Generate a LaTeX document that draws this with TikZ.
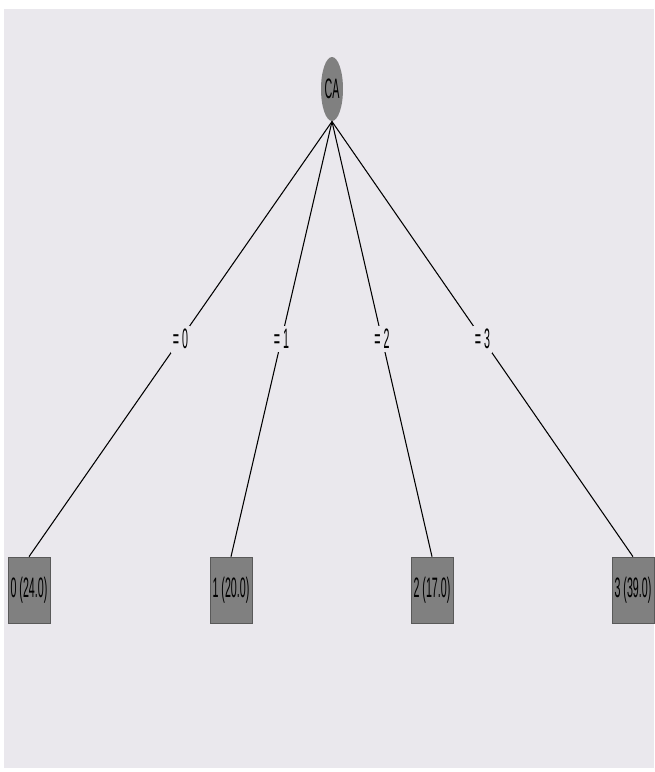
\documentclass[tikz,border=0pt]{standalone}
\usepackage{fontspec}
\setmainfont{Liberation Sans}
\usepackage{xcolor}
\usepackage{tikz}
\usetikzlibrary{shapes.geometric}

\definecolor{panelbg}{HTML}{EAE8ED}
\definecolor{nodegray}{HTML}{808080}
\newcommand{\narrow}[1]{\scalebox{0.38}[1]{\fontsize{16}{18}\selectfont #1}}

\begin{document}
\begin{tikzpicture}[x=0.02cm,y=-0.02cm,line width=0.6pt]
\tikzstyle{attr}=[ellipse,fill=nodegray,inner sep=0pt,minimum width=0.44cm,minimum height=1.28cm]
\tikzstyle{leaf}=[rectangle,fill=nodegray,draw=gray!70!black,line width=0.4pt,inner sep=0pt,minimum width=0.84cm,minimum height=1.32cm]
\tikzstyle{branch}=[fill=panelbg,inner xsep=1pt,inner ysep=2pt]
\useasboundingbox (0,0) rectangle (654,772);
\fill[panelbg] (4,9) rectangle (654,768);
\node[attr] (ca) at (332,89) {\narrow{CA}};
\node[leaf] (v0) at (29,590) {\narrow{0 (24.0)}};
\node[leaf] (v1) at (231,590) {\narrow{1 (20.0)}};
\node[leaf] (v2) at (432,590) {\narrow{2 (17.0)}};
\node[leaf] (v3) at (633,590) {\narrow{3 (39.0)}};
\draw (ca.south) -- (v0.north) node[branch,midway] {\narrow{= 0}};
\draw (ca.south) -- (v1.north) node[branch,midway] {\narrow{= 1}};
\draw (ca.south) -- (v2.north) node[branch,midway] {\narrow{= 2}};
\draw (ca.south) -- (v3.north) node[branch,midway] {\narrow{= 3}};
\end{tikzpicture}
\end{document}
